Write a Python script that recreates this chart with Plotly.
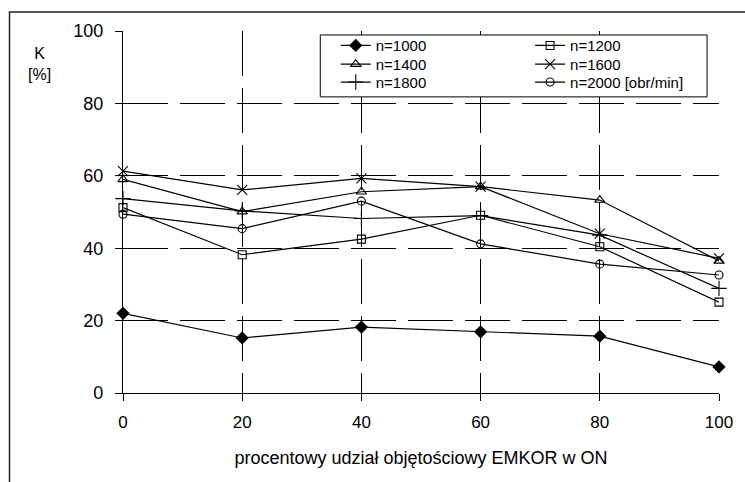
import plotly.graph_objects as go

x_vals = [0, 20, 40, 60, 80, 100]
n1000 = [22.0, 15.2, 18.2, 16.9, 15.7, 7.2]
n1200 = [51.2, 38.2, 42.5, 49.1, 40.4, 25.1]
n1400 = [59.0, 50.1, 55.6, 57.0, 53.3, 36.5]
n1600 = [61.3, 56.1, 59.3, 57.0, 44.0, 37.2]
n1800 = [53.7, 50.3, 48.2, 49.0, 43.6, 28.9]
n2000 = [49.4, 45.4, 53.0, 41.2, 35.6, 32.6]

series_names = ["n=1000", "n=1200", "n=1400", "n=1600", "n=1800", "n=2000 [obr/min]"]
series_vals = [n1000, n1200, n1400, n1600, n1800, n2000]
symbols = ["diamond", "square-open", "triangle-up-open", "x-thin", "cross-thin", "circle-open"]
sizes = [9, 8, 9, 10, 11, 8]

x_ticks = [0, 20, 40, 60, 80, 100]
y_ticks = [0, 20, 40, 60, 80, 100]

FONT = "Liberation Sans, Arial, sans-serif"

# legend grid: two columns, three rows (one legend box per entry)
leg_cols = [0.357, 0.683]
leg_rows = [0.9594, 0.9079, 0.8583]

fig = go.Figure()
legend_layout = {}
for i, (name, vals, sym, sz) in enumerate(zip(series_names, series_vals, symbols, sizes)):
    lg = "legend" if i == 0 else f"legend{i + 1}"
    fig.add_trace(go.Scatter(
        x=x_vals, y=vals, name=name, mode="lines+markers",
        line=dict(color="black", width=1.2),
        marker=dict(symbol=sym, size=sz, color="black",
                    line=dict(color="black", width=1.1)),
        cliponaxis=False, legend=lg,
    ))
    legend_layout[lg] = dict(
        x=leg_cols[i % 2], y=leg_rows[i // 2], xanchor="left", yanchor="middle",
        bgcolor="rgba(0,0,0,0)", borderwidth=0,
        font=dict(size=15, family=FONT), itemwidth=30,
    )

grid_dash = "45px,12px"
fig.update_layout(
    width=745, height=482,
    margin=dict(l=123, r=18, t=31, b=89),
    paper_bgcolor="white", plot_bgcolor="white",
    font=dict(family=FONT, color="black"),
    showlegend=True,
    xaxis=dict(range=[0, 100], tickvals=x_ticks, ticktext=[str(v) for v in x_ticks],
               showline=True, linecolor="black", linewidth=1.2,
               ticks="outside", ticklen=7, tickcolor="black",
               showgrid=True, gridcolor="black", gridwidth=1, griddash=grid_dash,
               zeroline=False, tickfont=dict(size=17, family=FONT),
               ticklabelstandoff=6,
               title=dict(text="procentowy udział objętościowy EMKOR w ON",
                          font=dict(size=18, family=FONT), standoff=20)),
    yaxis=dict(range=[0, 100], tickvals=y_ticks, ticktext=[str(v) for v in y_ticks],
               showline=True, linecolor="black", linewidth=1.2,
               ticks="outside", ticklen=7, tickcolor="black",
               showgrid=True, gridcolor="black", gridwidth=1, griddash=grid_dash,
               zeroline=False, tickfont=dict(size=18, family=FONT),
               ticklabelstandoff=8),
    shapes=[
        dict(type="rect", xref="paper", yref="paper",
             x0=-0.1904, x1=1.3, y0=-0.4, y1=1.0525,
             line=dict(color="#222", width=1.5), fillcolor="rgba(0,0,0,0)",
             layer="below"),
        dict(type="rect", xref="paper", yref="paper",
             x0=0.331, x1=0.980, y0=0.818, y1=0.989,
             line=dict(color="black", width=1), fillcolor="white",
             layer="above"),
    ],
    annotations=[
        dict(text="K<br>[%]", xref="paper", yref="paper", x=-0.14, y=0.91,
             xanchor="center", yanchor="middle", showarrow=False,
             font=dict(size=16, family=FONT)),
    ],
    **legend_layout,
)

fig.write_html(
    "out.html",
    config={"displayModeBar": False},
    post_script="document.body.style.margin='0';document.body.style.overflow='hidden';",
)
